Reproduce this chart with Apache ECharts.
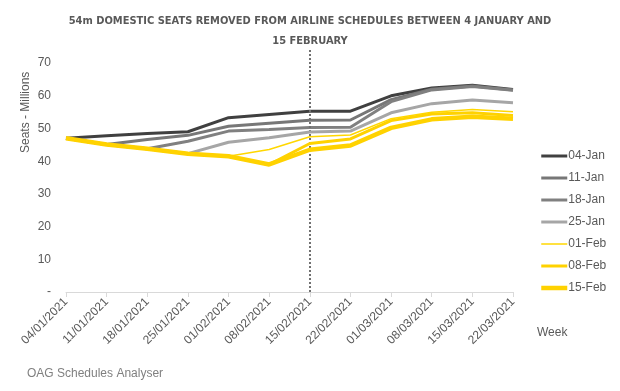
<!DOCTYPE html>
<html>
<head>
<meta charset="utf-8">
<script src="https://cdn.jsdelivr.net/npm/echarts@6/dist/echarts.min.js"></script>
<style>html,body{margin:0;padding:0;background:#fff}#c{width:620px;height:391px}</style>
</head>
<body>
<div id="c"></div>
<script>
const weeks = ['04/01/2021','11/01/2021','18/01/2021','25/01/2021','01/02/2021','08/02/2021','15/02/2021','22/02/2021','01/03/2021','08/03/2021','15/03/2021','22/03/2021'];
const seriesNames = ['04-Jan','11-Jan','18-Jan','25-Jan','01-Feb','08-Feb','15-Feb'];
const jan04 = [47.0, 47.8, 48.5, 49.0, 53.3, 54.3, 55.3, 55.3, 60.0, 62.4, 63.2, 61.9];
const jan11 = [47.0, 45.1, 46.6, 47.9, 50.7, 51.6, 52.5, 52.6, 58.8, 62.0, 63.0, 61.8];
const jan18 = [47.0, 45.1, 43.8, 46.1, 49.2, 49.7, 50.3, 50.4, 58.2, 61.8, 62.8, 61.7];
const jan25 = [47.0, 45.1, 43.8, 42.3, 45.8, 47.2, 48.9, 49.2, 54.8, 57.6, 58.7, 57.9];
const feb01 = [47.0, 45.1, 43.8, 42.3, 41.5, 43.6, 47.5, 48.0, 53.0, 55.0, 55.8, 55.1];
const feb08 = [47.0, 45.1, 43.8, 42.3, 41.5, 39.0, 45.4, 46.8, 52.4, 54.4, 54.8, 54.0];
const feb15 = [47.0, 45.1, 43.8, 42.3, 41.5, 39.0, 43.5, 44.8, 50.2, 52.8, 53.6, 53.0];
const cutoffWeek = '15/02/2021';
const titleText = '54m DOMESTIC SEATS REMOVED FROM AIRLINE SCHEDULES BETWEEN 4 JANUARY AND\n15 FEBRUARY';

const values = [jan04, jan11, jan18, jan25, feb01, feb08, feb15];
const colors = ['#404040','#777777','#808080','#a6a6a6','#ffd700','#ffd200','#ffd200'];
const widths = [3, 3, 3, 3, 1.5, 3, 4.5];

const chart = echarts.init(document.getElementById('c'), null, {renderer: 'canvas'});
const series = values.map((d, i) => ({
  name: seriesNames[i], type: 'line', data: d, symbol: 'none', showSymbol: false,
  lineStyle: {color: colors[i], width: widths[i]}, itemStyle: {color: colors[i]},
  animation: false, z: 2 + i
}));
series[0].markLine = {
  silent: true, symbol: ['none','none'], label: {show: false},
  lineStyle: {color: '#707070', type: [2, 2], width: 2},
  data: [{xAxis: cutoffWeek}]
};
chart.setOption({
  animation: false,
  title: {
    text: titleText, left: 'center', top: 6,
    textStyle: {fontFamily: '"DejaVu Sans Condensed", "Liberation Sans Narrow", sans-serif', fontSize: 11, fontWeight: 'bold', color: '#595959', lineHeight: 20}
  },
  grid: {left: 66, right: 107, top: 50, bottom: 99, containLabel: false},
  legend: {
    orient: 'vertical', left: 534, top: 145, itemWidth: 26, itemHeight: 12, itemGap: 10,
    itemStyle: {opacity: 0},
    textStyle: {fontFamily: 'Liberation Sans, sans-serif', fontSize: 12, color: '#595959', padding: [0,0,0,-4]},
    data: seriesNames.map((n, i) => ({name: n, lineStyle: {width: widths[i], color: colors[i]}}))
  },
  xAxis: {
    type: 'category', data: weeks, boundaryGap: false,
    axisLine: {lineStyle: {color: '#d9d9d9', width: 1}},
    axisTick: {show: true, alignWithLabel: true, length: 5, lineStyle: {color: '#d9d9d9'}},
    axisLabel: {rotate: 45, interval: 0, margin: 8, fontFamily: 'Liberation Sans, sans-serif', fontSize: 12, color: '#595959'}
  },
  yAxis: {
    type: 'value', min: 0, max: 74, interval: 10,
    axisLine: {show: false}, axisTick: {show: false}, splitLine: {show: false},
    axisLabel: {margin: 15, fontFamily: 'Liberation Sans, sans-serif', fontSize: 12, color: '#595959',
      formatter: v => v === 0 ? '-' : (v % 10 === 0 ? String(v) : '')}
  },
  graphic: [
    {type: 'text', rotation: Math.PI / 2, x: 20, y: 153, style: {text: 'Seats - Millions', font: '12px "Liberation Sans", sans-serif', fill: '#595959'}},
    {type: 'text', left: 537, top: 327, style: {text: 'Week', font: '12px "Liberation Sans", sans-serif', fill: '#595959'}},
    {type: 'text', left: 27, top: 368, style: {text: 'OAG Schedules Analyser', font: '12px "Liberation Sans", sans-serif', fill: '#808080'}}
  ],
  series: series
});
</script>
</body>
</html>
